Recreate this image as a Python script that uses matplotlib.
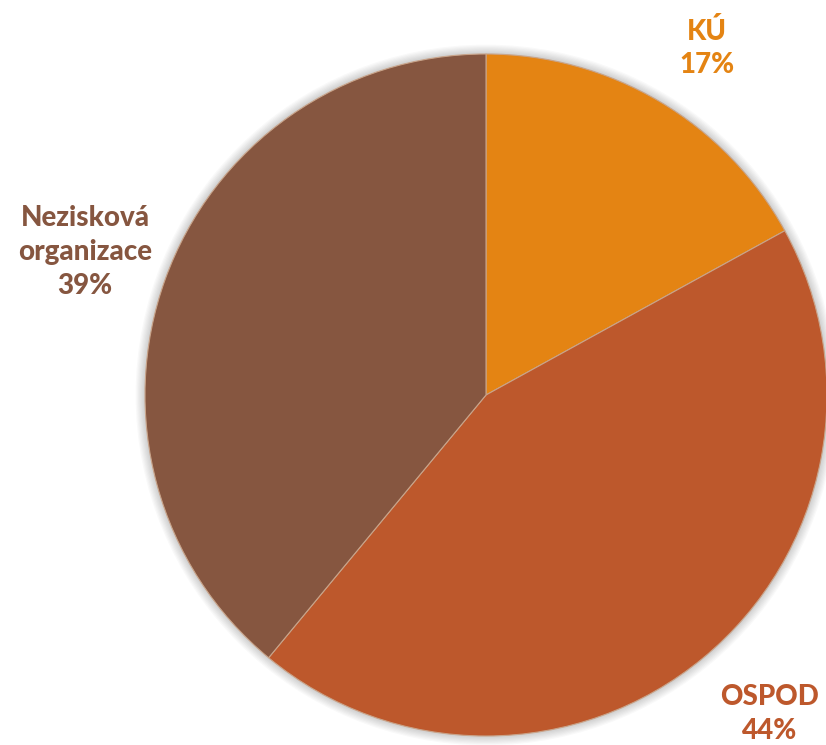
import matplotlib.pyplot as plt
from matplotlib.patches import Circle

# Podíly podle typu zařízení
kategorie = ["KÚ", "OSPOD", "Nezisková\norganizace"]
podily = [17, 44, 39]
barvy = ["#E48413", "#BD582C", "#865640"]

W, H = 826, 745
fig = plt.figure(figsize=(W / 100, H / 100), dpi=100)
ax = fig.add_axes([0, 0, 1, 1])

stred = (486, 350)
polomer = 341
# umisteni popisku (v pixelech obrazku, y odspodu)
popisky_xy = [(707, 697), (770, 31), (85, 493)]

# jemny stin kolem kolace
for i in range(8):
    ax.add_patch(Circle(stred, polomer + 1 + i * 1.2, color="black",
                        alpha=0.025, lw=0, zorder=0))

klinky, texty = ax.pie(
    podily, colors=barvy, startangle=90, counterclock=False,
    center=stred, radius=polomer,
    wedgeprops=dict(edgecolor="#c9a48a", linewidth=0.8),
)
for w in klinky:
    w.set_zorder(2)

for nazev, hodnota, barva, (x, y) in zip(kategorie, podily, barvy, popisky_xy):
    ax.text(x, y, f"{nazev}\n{hodnota}%", ha="center", va="center",
            color=barva, fontsize=20, fontweight=900, family="Lato",
            linespacing=1.38, zorder=3)

ax.set_xlim(0, W)
ax.set_ylim(0, H)
ax.set_aspect("equal")
ax.axis("off")

fig.savefig("out.png", dpi=100)
